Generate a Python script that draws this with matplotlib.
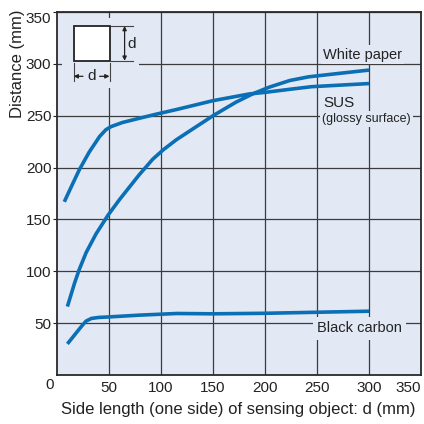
import matplotlib
matplotlib.use("Agg")
import matplotlib.pyplot as plt
from matplotlib.patches import Rectangle

# curve data (side length d in mm, distance in mm)
white_x = [10, 17, 21.5, 28, 37.5, 49, 60, 79, 92, 102, 115, 150, 172, 188, 204, 224, 242, 264, 300]
white_y = [66, 89, 102, 118, 136, 154, 169, 193, 208, 217, 227, 250, 263, 271, 277.5, 284, 287.5, 290, 294]

sus_x = [7, 13.5, 21.5, 31, 41, 47, 52, 63, 79, 95.5, 115, 150, 185, 200, 224, 245, 300]
sus_y = [167, 181, 198, 215, 230, 236.5, 239.5, 243.5, 247.5, 251.5, 256, 264.5, 271, 272.5, 275.5, 278, 281]

carbon_x = [10, 18, 24, 28, 33, 40, 50, 79, 115, 150, 200, 250, 300]
carbon_y = [30, 40, 47.5, 52, 54.5, 55.5, 56, 57.7, 59.3, 59, 59.5, 60.5, 61.5]

x_ticks = [50, 100, 150, 200, 250, 300, 350]
y_ticks = [50, 100, 150, 200, 250, 300, 350]

BG = "#e2e9f4"
BLUE = "#0b6fb6"
GRID = "#3c3c3c"
TXT = "#222222"

plt.rcParams["font.family"] = ["Liberation Sans", "DejaVu Sans"]

fig = plt.figure(figsize=(4.24, 4.24), dpi=100)
ax = fig.add_axes([57 / 424, 49 / 424, 364 / 424, 363 / 424])
ax.set_facecolor(BG)
ax.set_xlim(0, 350)
ax.set_ylim(0, 350)

ax.set_xticks(x_ticks)
ax.set_yticks(y_ticks)
ax.tick_params(axis="x", length=0, pad=4, labelsize=11, colors=TXT)
ax.tick_params(axis="y", length=3, width=0.8, pad=1, labelsize=11, colors=TXT)
ax.get_xticklabels()[-1].set_ha("right")
ax.get_yticklabels()[-1].set_va("top")
ax.grid(True, color=GRID, linewidth=0.9, zorder=1)
ax.set_axisbelow(True)
for s in ax.spines.values():
    s.set_color("#2a2a2a")
    s.set_linewidth(1.3)
ax.text(-0.02, -0.028, "0", transform=ax.transAxes, ha="center", va="center",
        fontsize=11, color=TXT)

ax.set_xlabel("Side length (one side) of sensing object: d (mm)", fontsize=12, color=TXT)
ax.xaxis.set_label_coords(0.497, -0.074)
ax.set_ylabel("Distance (mm)", fontsize=12, color=TXT)
ax.yaxis.set_label_coords(-0.088, 0.857)

# curves
for xs, ys in [(white_x, white_y), (sus_x, sus_y), (carbon_x, carbon_y)]:
    ax.plot(xs, ys, color=BLUE, linewidth=2.6, solid_capstyle="butt",
            solid_joinstyle="round", zorder=4)

# labels with background boxes that hide the grid
box = dict(facecolor=BG, edgecolor="none", pad=1.5)
ax.text(256, 309, "White paper", fontsize=10.5, color=TXT, ha="left", va="center",
        bbox=box, zorder=3)
ax.text(256, 262, "SUS", fontsize=11, color=TXT, ha="left", va="center",
        bbox=box, zorder=3)
ax.text(255, 246.5, "(glossy surface)", fontsize=9, color=TXT, ha="left", va="center",
        bbox=box, zorder=3)
ax.text(250, 45, "Black carbon", fontsize=10.5, color=TXT, ha="left", va="center",
        bbox=dict(facecolor=BG, edgecolor="none", pad=3), zorder=3)

# inset sketch of the square object with dimension marks
ax.add_patch(Rectangle((5, 277), 74, 67, facecolor=BG, edgecolor="none", zorder=2))
ax.add_patch(Rectangle((16, 303), 34.5, 33.5, facecolor="white", edgecolor=TXT,
                       linewidth=1.3, zorder=3))
ax.plot([52, 73], [336.5, 336.5], color="#444444", linewidth=0.8, zorder=3)
ax.plot([52, 73], [303, 303], color="#444444", linewidth=0.8, zorder=3)
ax.annotate("", xy=(65, 336.5), xytext=(65, 303),
            arrowprops=dict(arrowstyle="<|-|>", color=TXT, lw=0.9,
                            mutation_scale=6, shrinkA=0, shrinkB=0), zorder=3)
ax.text(68, 319.5, "d", fontsize=11, color=TXT, ha="left", va="center", zorder=3)
ax.plot([16, 16], [283, 301], color="#444444", linewidth=0.8, zorder=3)
ax.plot([50.5, 50.5], [283, 301], color="#444444", linewidth=0.8, zorder=3)
ax.annotate("", xy=(16, 288), xytext=(25, 288),
            arrowprops=dict(arrowstyle="-|>", color=TXT, lw=0.9,
                            mutation_scale=6, shrinkA=0, shrinkB=0), zorder=3)
ax.annotate("", xy=(50.5, 288), xytext=(41, 288),
            arrowprops=dict(arrowstyle="-|>", color=TXT, lw=0.9,
                            mutation_scale=6, shrinkA=0, shrinkB=0), zorder=3)
ax.text(33, 288, "d", fontsize=11, color=TXT, ha="center", va="center", zorder=3)

fig.savefig("out.png", dpi=100)
